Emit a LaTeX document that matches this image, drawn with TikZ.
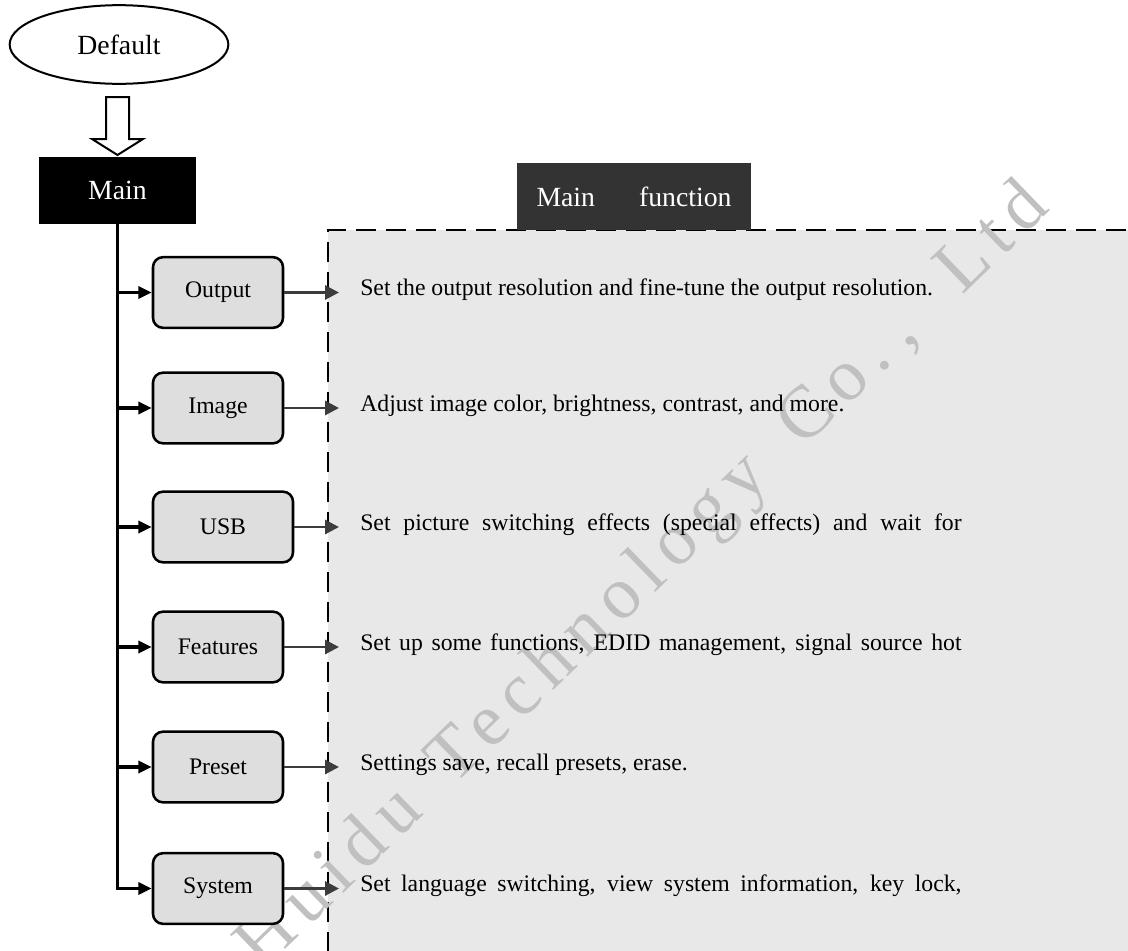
\documentclass[tikz,border=0pt]{standalone}
\usepackage{fontspec}
\setmainfont{Liberation Serif}
\newfontfamily\wmfont[LetterSpace=14]{Liberation Serif}
\usetikzlibrary{arrows.meta,shapes.geometric}
\definecolor{boxgray}{HTML}{DEDEDE}
\definecolor{framegray}{HTML}{E8E8E8}
\definecolor{darkbox}{HTML}{333333}
\definecolor{arrgray}{HTML}{3C3C3C}
\definecolor{wmgray}{HTML}{C0C0C0}
\newcommand\justline[1]{\hbox to 451pt{\spaceskip=0.25em plus 1fil\relax #1}}
\begin{document}
\begin{tikzpicture}[x=0.75pt,y=-0.75pt,
  menubox/.style={draw=black, line width=1.9pt, rounded corners=7.5pt, fill=boxgray,
    minimum width=97.5pt, minimum height=53pt, inner sep=0pt,
    font=\fontsize{17.8}{20}\selectfont},
  titlebox/.style={minimum height=50.25pt, inner sep=0pt, text=white,
    font=\fontsize{20.8}{24}\selectfont},
  desc/.style={anchor=mid west, inner sep=0pt, font=\fontsize{17.8}{20}\selectfont},
  feed/.style={line width=2.4pt, -{Triangle[length=10pt,width=9pt]}},
  outarrow/.style={draw=arrgray, line width=2.2pt, -{Triangle[length=10.5pt,width=10.5pt]}},
  wm/.style={rotate=44, anchor=base west, inner sep=0pt, text=wmgray,
    font=\wmfont\fontsize{55.5}{60}\selectfont}]
\useasboundingbox (0,0) rectangle (1128,950);
\fill[white] (0,0) rectangle (1128,950);

% frame
\fill[framegray] (328,230) rectangle (1130,952);
\draw[line width=2.2pt, dash pattern=on 15pt off 7.5pt] (328,952) -- (328,230) -- (1130,230);

% watermark
\node[wm] (wm1) at (262.3,971.7) {Huidu};
\node[wm] (wm2) at (453.6,787.0) {Technology};
\node[wm] (wm3) at (803.5,449.1) {Co.};
\node[wm] (wm4) at (906.6,349.5) {,};
\node[wm] (wm5) at (962,296) {Ltd};

% top
\node[ellipse, draw, line width=1.5pt, minimum width=164pt, minimum height=59pt, inner sep=0pt,
  font=\fontsize{20.8}{24}\selectfont] (default) at (119,44.5) {Default};
\draw[line width=1.5pt, fill=white] (106,97) -- (129,97) -- (129,139) -- (143,139)
  -- (117.5,155) -- (92,139) -- (106,139) -- cycle;
\node[titlebox, fill=black, minimum width=117.75pt] (main) at (117.5,190.5) {Main};
\node[titlebox, fill=darkbox, minimum width=175.5pt] (mf) at (634,196.5) {Main\hspace{33pt}function};

% menu boxes
\node[menubox] (outp) at (218,292.5) {Output};
\node[menubox] (img) at (218,408) {Image};
\node[menubox, minimum width=105pt] (usb) at (223,527) {USB};
\node[menubox] (feat) at (218,647) {Features};
\node[menubox] (pre) at (218,767) {Preset};
\node[menubox] (sys) at (218,888.5) {System};

% trunk and feeds
\draw[feed] (main.south) |- (sys.west);
\foreach \n in {outp,img,usb,feat,pre}
  \draw[feed] (main.south |- \n.west) -- (\n.west);

% descriptions
\coordinate (tipline) at (339,0);
\foreach \n in {outp,img,usb,feat,pre,sys}
  \draw[outarrow] (\n.east) -- (\n.east -| tipline);

\node[desc] (d1) at (360,292.5) {Set the output resolution and fine-tune the output resolution.};
\node[desc] (d2) at (360,408) {Adjust image color, brightness, contrast, and more.};
\node[desc] (d3) at (360,527) {\justline{Set picture switching effects (special effects) and wait for}};
\node[desc] (d4) at (360,647) {\justline{Set up some functions, EDID management, signal source hot}};
\node[desc] (d5) at (360,767) {Settings save, recall presets, erase.};
\node[desc] (d6) at (360,888.5) {\justline{Set language switching, view system information, key lock,}};
\end{tikzpicture}
\end{document}
